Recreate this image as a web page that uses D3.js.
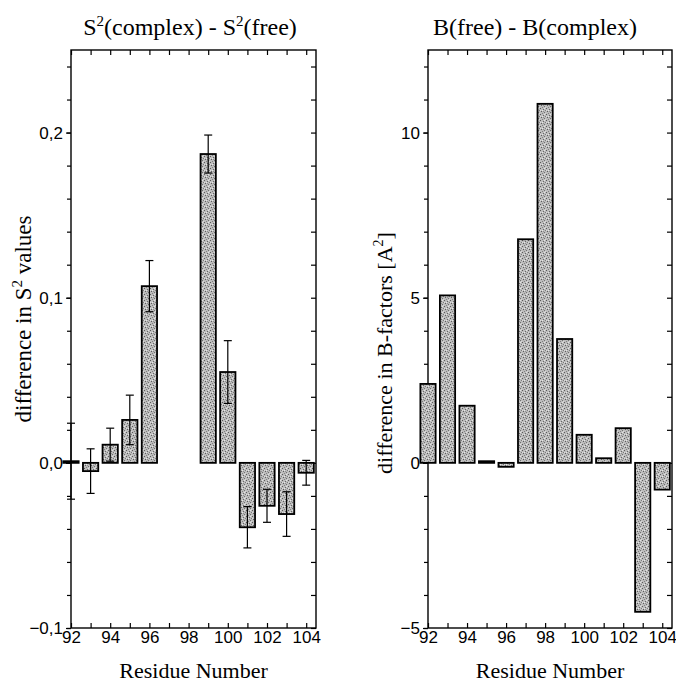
<!DOCTYPE html>
<html>
<head>
<meta charset="utf-8">
<script src="https://cdn.jsdelivr.net/npm/d3@7"></script>
<style>
  body { margin: 0; background: #fff; }
  svg { display: block; }
  .tick text { font-family: "Liberation Sans", Arial, sans-serif; font-size: 17px; fill: #000; }
  .domain { display: none; }
  .tick line { stroke: #000; stroke-width: 1.2px; }
  .serif { font-family: "Liberation Serif", "Times New Roman", serif; fill: #000; }
</style>
</head>
<body>
<svg id="chart" width="676" height="684"></svg>
<script>
// residues shown on both panels
const residues = [92, 93, 94, 95, 96, 97, 98, 99, 100, 101, 102, 103, 104];

// left panel: S2(complex) - S2(free), null = no value
const s2Diff = [0.001, -0.005, 0.011, 0.026, 0.107, null, null, 0.187, 0.055, -0.039, -0.026, -0.031, -0.006];
const s2Err = [0.023, 0.0135, 0.01, 0.015, 0.0155, null, null, 0.0115, 0.019, 0.0125, 0.01, 0.0135, 0.0075];

// right panel: B(free) - B(complex)
const bDiff = [2.39, 5.07, 1.73, 0.05, -0.12, 6.77, 10.87, 3.75, 0.85, 0.14, 1.05, -4.51, -0.81];

const s2MajorTicks = [-0.1, 0.0, 0.1, 0.2];
const bMajorTicks = [-5, 0, 5, 10];
const xMajorTicks = [92, 94, 96, 98, 100, 102, 104];

const svg = d3.select('#chart');

// stipple-like gray fill for the bars (fixed dot layout in a 6x6 tile)
const defs = svg.append('defs');
const pat = defs.append('pattern')
    .attr('id', 'stipple')
    .attr('patternUnits', 'userSpaceOnUse')
    .attr('width', 6)
    .attr('height', 6);
pat.append('rect').attr('width', 6).attr('height', 6).attr('fill', '#bcbcbc');
[[0, 0, '#5a5a5a'], [3, 1, '#666'], [5, 2, '#7a7a7a'], [1, 3, '#5e5e5e'], [4, 4, '#707070'],
    [2, 5, '#808080'], [4, 0, '#e4e4e4'], [0, 2, '#dcdcdc'], [2, 2, '#e8e8e8'], [5, 5, '#d8d8d8'], [3, 3, '#909090']].forEach(p => {
    pat.append('rect').attr('x', p[0]).attr('y', p[1]).attr('width', 1).attr('height', 1).attr('fill', p[2]);
});

function drawPanel (opts) {
    const { left, right, top, bottom, yDomain, values, errors, majorY, minorStep, yFormat } = opts;

    const x = d3.scaleLinear().domain([92, 104.5]).range([left, right]);
    const y = d3.scaleLinear().domain(yDomain).range([bottom, top]);
    const g = svg.append('g');

    const minorY = d3.range(yDomain[0], yDomain[1] + 1e-9, minorStep).map(v => +v.toFixed(4));

    // left axis, ticks outward
    g.append('g')
        .attr('transform', 'translate(' + left + ',0)')
        .call(d3.axisLeft(y).tickValues(minorY).tickSize(4).tickFormat(''));
    g.append('g')
        .attr('transform', 'translate(' + left + ',0)')
        .call(d3.axisLeft(y).tickValues(majorY).tickSize(5).tickPadding(3).tickFormat(yFormat));

    // right axis, ticks inward
    g.append('g')
        .attr('transform', 'translate(' + right + ',0)')
        .call(d3.axisRight(y).tickValues(minorY).tickSize(-5).tickFormat(''));

    // bottom axis, ticks inward
    g.append('g')
        .attr('transform', 'translate(0,' + bottom + ')')
        .call(d3.axisBottom(x).tickValues(residues).tickSize(-5).tickFormat(''));
    g.append('g')
        .attr('transform', 'translate(0,' + bottom + ')')
        .call(d3.axisBottom(x).tickValues(xMajorTicks).tickSize(0).tickPadding(3).tickFormat(d3.format('d')));

    // top axis, ticks inward
    g.append('g')
        .attr('transform', 'translate(0,' + top + ')')
        .call(d3.axisTop(x).tickValues(residues).tickSize(-5).tickFormat(''));

    // frame
    g.append('rect')
        .attr('x', left)
        .attr('y', top)
        .attr('width', right - left)
        .attr('height', bottom - top)
        .attr('fill', 'none')
        .attr('stroke', '#000')
        .attr('stroke-width', 1.4);

    const bw = x(92.78) - x(92);
    const data = residues.map((r, i) => ({ r, v: values[i], e: errors ? errors[i] : null }))
        .filter(d => d.v !== null);

    g.selectAll('.bar')
        .data(data)
        .enter()
        .append('rect')
        .attr('class', 'bar')
        .attr('x', d => x(d.r) - bw / 2)
        .attr('y', d => Math.min(y(d.v), y(0)))
        .attr('width', bw)
        .attr('height', d => Math.max(Math.abs(y(d.v) - y(0)), 1.5))
        .attr('fill', 'url(#stipple)')
        .attr('stroke', '#000')
        .attr('stroke-width', 1.8);

    if (errors) {
        const eb = g.selectAll('.err')
            .data(data.filter(d => d.e !== null))
            .enter()
            .append('g')
            .attr('class', 'err')
            .attr('stroke', '#000')
            .attr('stroke-width', 1.2);
        eb.append('line')
            .attr('x1', d => x(d.r)).attr('x2', d => x(d.r))
            .attr('y1', d => y(d.v + d.e)).attr('y2', d => y(d.v - d.e));
        eb.append('line')
            .attr('x1', d => x(d.r) - 4).attr('x2', d => x(d.r) + 4)
            .attr('y1', d => y(d.v + d.e)).attr('y2', d => y(d.v + d.e));
        eb.append('line')
            .attr('x1', d => x(d.r) - 4).attr('x2', d => x(d.r) + 4)
            .attr('y1', d => y(d.v - d.e)).attr('y2', d => y(d.v - d.e));
    }

    // x axis title
    g.append('text')
        .attr('class', 'serif')
        .attr('x', (left + right) / 2)
        .attr('y', 678)
        .attr('text-anchor', 'middle')
        .style('font-size', '22px')
        .text('Residue Number');

    return g;
}

drawPanel({
    left: 71, right: 316, top: 50, bottom: 628,
    yDomain: [-0.1, 0.25], values: s2Diff, errors: s2Err,
    majorY: s2MajorTicks, minorStep: 0.02,
    yFormat: d => d3.format('.1f')(d).replace('.', ',')
});

drawPanel({
    left: 428, right: 672, top: 50, bottom: 628,
    yDomain: [-5, 12.5], values: bDiff, errors: null,
    majorY: bMajorTicks, minorStep: 1,
    yFormat: d3.format('d')
});

// titles with superscripts
const t1 = svg.append('text').attr('class', 'serif')
    .attr('x', 190).attr('y', 35).attr('text-anchor', 'middle').style('font-size', '24px');
t1.append('tspan').text('S');
t1.append('tspan').attr('dy', -9).style('font-size', '15px').text('2');
t1.append('tspan').attr('dy', 9).text('(complex) - S');
t1.append('tspan').attr('dy', -9).style('font-size', '15px').text('2');
t1.append('tspan').attr('dy', 9).text('(free)');

svg.append('text').attr('class', 'serif')
    .attr('x', 535).attr('y', 35).attr('text-anchor', 'middle').style('font-size', '24px')
    .text('B(free) - B(complex)');

// y axis titles
const yl = svg.append('text').attr('class', 'serif')
    .attr('transform', 'translate(31,319) rotate(-90)')
    .attr('text-anchor', 'middle').style('font-size', '23px');
yl.append('tspan').text('difference in S');
yl.append('tspan').attr('dy', -9).style('font-size', '15px').text('2');
yl.append('tspan').attr('dy', 9).text(' values');

const yr = svg.append('text').attr('class', 'serif')
    .attr('transform', 'translate(392,353) rotate(-90)')
    .attr('text-anchor', 'middle').style('font-size', '22px');
yr.append('tspan').text('difference in B-factors  [A');
yr.append('tspan').attr('dy', -9).style('font-size', '14px').text('2');
yr.append('tspan').attr('dy', 9).text(']');
</script>
</body>
</html>
